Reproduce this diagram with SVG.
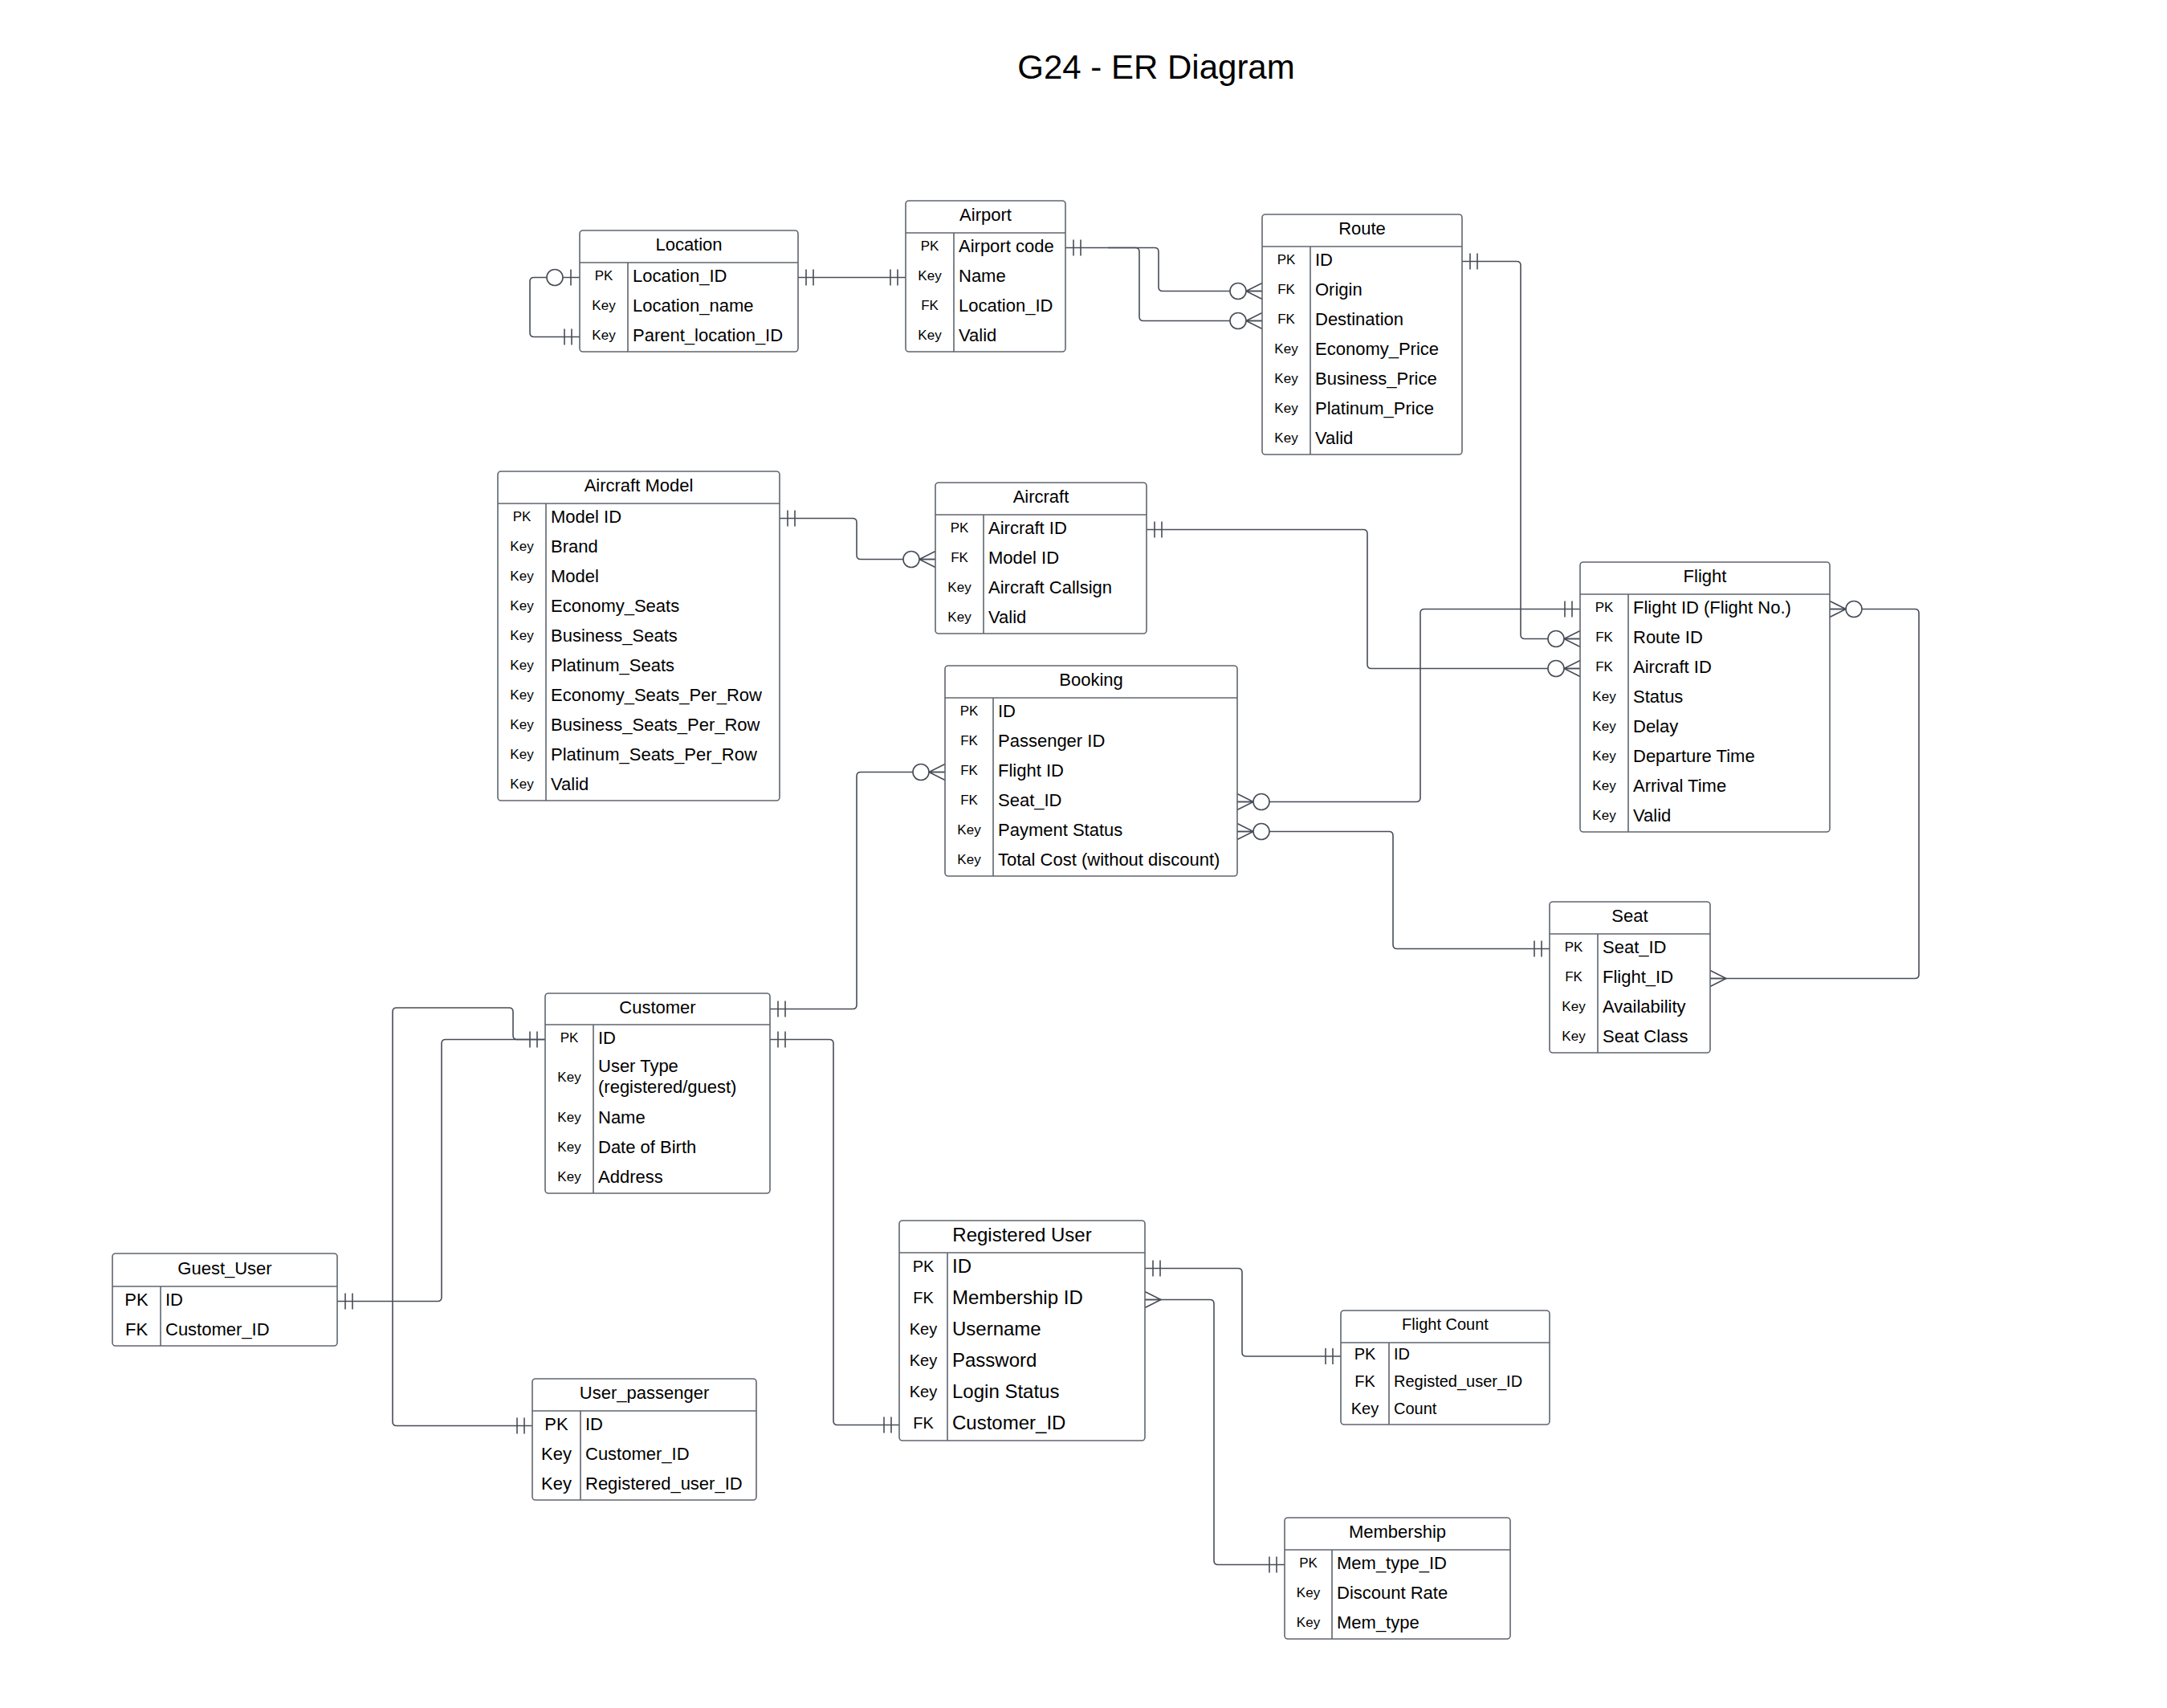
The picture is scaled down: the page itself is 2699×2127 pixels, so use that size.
<svg xmlns="http://www.w3.org/2000/svg" width="2699" height="2127" viewBox="0 0 2699 2127">
<style>
text{font-family:"Liberation Sans",Arial,sans-serif;fill:#000}
.box{fill:#fff;stroke:#60666f;stroke-width:1.6}
.sep{stroke:#60666f;stroke-width:1.6}
.hd{font-size:22px;text-anchor:middle}
.k{font-size:17px;text-anchor:middle}
.f{font-size:22px}
.k22{font-size:22px;text-anchor:middle}
.hd24{font-size:24px;text-anchor:middle}
.f24{font-size:24px}
.k20{font-size:20px;text-anchor:middle}
.f20{font-size:20px}
.hd20{font-size:20px;text-anchor:middle}
.ln{fill:none;stroke:#474d57;stroke-width:1.6}
.mk{fill:none;stroke:#474d57;stroke-width:1.6}
.mc{fill:#fff;stroke:#474d57;stroke-width:1.6}
</style>
<defs>
<marker id="one" markerUnits="userSpaceOnUse" viewBox="-45 -15 50 30" refX="0" refY="0" markerWidth="50" markerHeight="30" orient="auto-start-reverse" overflow="visible">
<path class="mk" d="M-10,-10V10M-19,-10V10"/>
</marker>
<marker id="zmany" markerUnits="userSpaceOnUse" viewBox="-45 -15 50 30" refX="0" refY="0" markerWidth="50" markerHeight="30" orient="auto-start-reverse" overflow="visible">
<path class="mk" d="M0,-10L-20,0L0,10M-20,0H0"/>
<circle class="mc" cx="-30" cy="0" r="10"/>
</marker>
<marker id="many" markerUnits="userSpaceOnUse" viewBox="-45 -15 50 30" refX="0" refY="0" markerWidth="50" markerHeight="30" orient="auto-start-reverse" overflow="visible">
<path class="mk" d="M0,-10L-20,0L0,10M-20,0H0"/>
</marker>
<marker id="zone" markerUnits="userSpaceOnUse" viewBox="-45 -15 50 30" refX="0" refY="0" markerWidth="50" markerHeight="30" orient="auto-start-reverse" overflow="visible">
<path class="mk" d="M-11,-10V10"/>
<circle class="mc" cx="-31" cy="0" r="10"/>
</marker>
</defs>
<rect width="2699" height="2127" fill="#fff"/>
<text x="1440" y="98" style="font-size:42px;text-anchor:middle">G24 - ER Diagram</text>

<g id="connectors">
<path class="ln" d="M722,345.5H665Q660,345.5 660,350.5V414.5Q660,419.5 665,419.5H722" marker-start="url(#zone)" marker-end="url(#one)"/>
<path class="ln" d="M994,345.5H1128" marker-start="url(#one)" marker-end="url(#one)"/>
<path class="ln" d="M1327,308.5H1438Q1443,308.5 1443,313.5V357.5Q1443,362.5 1448,362.5H1572" marker-start="url(#one)" marker-end="url(#zmany)"/>
<path class="ln" d="M1380,308.5H1414Q1419,308.5 1419,313.5V394.5Q1419,399.5 1424,399.5H1572" marker-end="url(#zmany)"/>
<path class="ln" d="M1821,325.5H1889Q1894,325.5 1894,330.5V790.5Q1894,795.5 1899,795.5H1968" marker-start="url(#one)" marker-end="url(#zmany)"/>
<path class="ln" d="M971,645.5H1062Q1067,645.5 1067,650.5V691.5Q1067,696.5 1072,696.5H1165" marker-start="url(#one)" marker-end="url(#zmany)"/>
<path class="ln" d="M1428,659.5H1698Q1703,659.5 1703,664.5V827.5Q1703,832.5 1708,832.5H1968" marker-start="url(#one)" marker-end="url(#zmany)"/>
<path class="ln" d="M1541,998.5H1764Q1769,998.5 1769,993.5V763.5Q1769,758.5 1774,758.5H1968" marker-start="url(#zmany)" marker-end="url(#one)"/>
<path class="ln" d="M1541,1035.5H1730Q1735,1035.5 1735,1040.5V1176.5Q1735,1181.5 1740,1181.5H1930" marker-start="url(#zmany)" marker-end="url(#one)"/>
<path class="ln" d="M2279,758.5H2385Q2390,758.5 2390,763.5V1213.5Q2390,1218.5 2385,1218.5H2130" marker-start="url(#zmany)" marker-end="url(#many)"/>
<path class="ln" d="M959,1256.5H1062Q1067,1256.5 1067,1251.5V966.5Q1067,961.5 1072,961.5H1177" marker-start="url(#one)" marker-end="url(#zmany)"/>
<path class="ln" d="M959,1294.5H1033Q1038,1294.5 1038,1299.5V1769.5Q1038,1774.5 1043,1774.5H1120" marker-start="url(#one)" marker-end="url(#one)"/>
<path class="ln" d="M679,1294.5H644Q639,1294.5 639,1289.5V1260Q639,1255 634,1255H494Q489,1255 489,1260V1770.5Q489,1775.5 494,1775.5H663" marker-start="url(#one)" marker-end="url(#one)"/>
<path class="ln" d="M420,1620.5H545Q550,1620.5 550,1615.5V1299.5Q550,1294.5 555,1294.5H679" marker-start="url(#one)"/>
<path class="ln" d="M1426,1579.5H1542Q1547,1579.5 1547,1584.5V1684Q1547,1689 1552,1689H1670" marker-start="url(#one)" marker-end="url(#one)"/>
<path class="ln" d="M1426,1618.5H1507Q1512,1618.5 1512,1623.5V1943.5Q1512,1948.5 1517,1948.5H1600" marker-start="url(#many)" marker-end="url(#one)"/>
</g>

<g id="location">
<rect class="box" x="722" y="287" width="272" height="151" rx="4"/>
<path class="sep" d="M722,327H994M782,327V438"/>
<text class="hd" x="858" y="312">Location</text>
<text class="k" x="752" y="348.5">PK</text><text class="f" x="788" y="350.5">Location_ID</text>
<text class="k" x="752" y="385.5">Key</text><text class="f" x="788" y="387.5">Location_name</text>
<text class="k" x="752" y="422.5">Key</text><text class="f" x="788" y="424.5">Parent_location_ID</text>
</g>

<g id="airport">
<rect class="box" x="1128" y="250" width="199" height="188" rx="4"/>
<path class="sep" d="M1128,290H1327M1188,290V438"/>
<text class="hd" x="1227.5" y="275">Airport</text>
<text class="k" x="1158" y="311.5">PK</text><text class="f" x="1194" y="313.5">Airport code</text>
<text class="k" x="1158" y="348.5">Key</text><text class="f" x="1194" y="350.5">Name</text>
<text class="k" x="1158" y="385.5">FK</text><text class="f" x="1194" y="387.5">Location_ID</text>
<text class="k" x="1158" y="422.5">Key</text><text class="f" x="1194" y="424.5">Valid</text>
</g>

<g id="route">
<rect class="box" x="1572" y="267" width="249" height="299" rx="4"/>
<path class="sep" d="M1572,307H1821M1632,307V566"/>
<text class="hd" x="1696.5" y="292">Route</text>
<text class="k" x="1602" y="328.5">PK</text><text class="f" x="1638" y="330.5">ID</text>
<text class="k" x="1602" y="365.5">FK</text><text class="f" x="1638" y="367.5">Origin</text>
<text class="k" x="1602" y="402.5">FK</text><text class="f" x="1638" y="404.5">Destination</text>
<text class="k" x="1602" y="439.5">Key</text><text class="f" x="1638" y="441.5">Economy_Price</text>
<text class="k" x="1602" y="476.5">Key</text><text class="f" x="1638" y="478.5">Business_Price</text>
<text class="k" x="1602" y="513.5">Key</text><text class="f" x="1638" y="515.5">Platinum_Price</text>
<text class="k" x="1602" y="550.5">Key</text><text class="f" x="1638" y="552.5">Valid</text>
</g>

<g id="aircraft-model">
<rect class="box" x="620" y="587" width="351" height="410" rx="4"/>
<path class="sep" d="M620,627H971M680,627V997"/>
<text class="hd" x="795.5" y="612">Aircraft Model</text>
<text class="k" x="650" y="648.5">PK</text><text class="f" x="686" y="650.5">Model ID</text>
<text class="k" x="650" y="685.5">Key</text><text class="f" x="686" y="687.5">Brand</text>
<text class="k" x="650" y="722.5">Key</text><text class="f" x="686" y="724.5">Model</text>
<text class="k" x="650" y="759.5">Key</text><text class="f" x="686" y="761.5">Economy_Seats</text>
<text class="k" x="650" y="796.5">Key</text><text class="f" x="686" y="798.5">Business_Seats</text>
<text class="k" x="650" y="833.5">Key</text><text class="f" x="686" y="835.5">Platinum_Seats</text>
<text class="k" x="650" y="870.5">Key</text><text class="f" x="686" y="872.5">Economy_Seats_Per_Row</text>
<text class="k" x="650" y="907.5">Key</text><text class="f" x="686" y="909.5">Business_Seats_Per_Row</text>
<text class="k" x="650" y="944.5">Key</text><text class="f" x="686" y="946.5">Platinum_Seats_Per_Row</text>
<text class="k" x="650" y="981.5">Key</text><text class="f" x="686" y="983.5">Valid</text>
</g>

<g id="aircraft">
<rect class="box" x="1165" y="601" width="263" height="188" rx="4"/>
<path class="sep" d="M1165,641H1428M1225,641V789"/>
<text class="hd" x="1296.5" y="626">Aircraft</text>
<text class="k" x="1195" y="662.5">PK</text><text class="f" x="1231" y="664.5">Aircraft ID</text>
<text class="k" x="1195" y="699.5">FK</text><text class="f" x="1231" y="701.5">Model ID</text>
<text class="k" x="1195" y="736.5">Key</text><text class="f" x="1231" y="738.5">Aircraft Callsign</text>
<text class="k" x="1195" y="773.5">Key</text><text class="f" x="1231" y="775.5">Valid</text>
</g>

<g id="booking">
<rect class="box" x="1177" y="829" width="364" height="262" rx="4"/>
<path class="sep" d="M1177,869H1541M1237,869V1091"/>
<text class="hd" x="1359" y="854">Booking</text>
<text class="k" x="1207" y="890.5">PK</text><text class="f" x="1243" y="892.5">ID</text>
<text class="k" x="1207" y="927.5">FK</text><text class="f" x="1243" y="929.5">Passenger ID</text>
<text class="k" x="1207" y="964.5">FK</text><text class="f" x="1243" y="966.5">Flight ID</text>
<text class="k" x="1207" y="1001.5">FK</text><text class="f" x="1243" y="1003.5">Seat_ID</text>
<text class="k" x="1207" y="1038.5">Key</text><text class="f" x="1243" y="1040.5">Payment Status</text>
<text class="k" x="1207" y="1075.5">Key</text><text class="f" x="1243" y="1077.5">Total Cost (without discount)</text>
</g>

<g id="flight">
<rect class="box" x="1968" y="700" width="311" height="336" rx="4"/>
<path class="sep" d="M1968,740H2279M2028,740V1036"/>
<text class="hd" x="2123.5" y="725">Flight</text>
<text class="k" x="1998" y="761.5">PK</text><text class="f" x="2034" y="763.5">Flight ID (Flight No.)</text>
<text class="k" x="1998" y="798.5">FK</text><text class="f" x="2034" y="800.5">Route ID</text>
<text class="k" x="1998" y="835.5">FK</text><text class="f" x="2034" y="837.5">Aircraft ID</text>
<text class="k" x="1998" y="872.5">Key</text><text class="f" x="2034" y="874.5">Status</text>
<text class="k" x="1998" y="909.5">Key</text><text class="f" x="2034" y="911.5">Delay</text>
<text class="k" x="1998" y="946.5">Key</text><text class="f" x="2034" y="948.5">Departure Time</text>
<text class="k" x="1998" y="983.5">Key</text><text class="f" x="2034" y="985.5">Arrival Time</text>
<text class="k" x="1998" y="1020.5">Key</text><text class="f" x="2034" y="1022.5">Valid</text>
</g>

<g id="seat">
<rect class="box" x="1930" y="1123" width="200" height="188" rx="4"/>
<path class="sep" d="M1930,1163H2130M1990,1163V1311"/>
<text class="hd" x="2030" y="1148">Seat</text>
<text class="k" x="1960" y="1184.5">PK</text><text class="f" x="1996" y="1186.5">Seat_ID</text>
<text class="k" x="1960" y="1221.5">FK</text><text class="f" x="1996" y="1223.5">Flight_ID</text>
<text class="k" x="1960" y="1258.5">Key</text><text class="f" x="1996" y="1260.5">Availability</text>
<text class="k" x="1960" y="1295.5">Key</text><text class="f" x="1996" y="1297.5">Seat Class</text>
</g>

<g id="customer">
<rect class="box" x="679" y="1237" width="280" height="249" rx="4"/>
<path class="sep" d="M679,1276H959M739,1276V1486"/>
<text class="hd" x="819" y="1261.5">Customer</text>
<text class="k" x="709" y="1297.5">PK</text><text class="f" x="745" y="1299.5">ID</text>
<text class="k" x="709" y="1347">Key</text><text class="f" x="745" y="1334.5">User Type</text><text class="f" x="745" y="1360.5">(registered/guest)</text>
<text class="k" x="709" y="1396.5">Key</text><text class="f" x="745" y="1398.5">Name</text>
<text class="k" x="709" y="1433.5">Key</text><text class="f" x="745" y="1435.5">Date of Birth</text>
<text class="k" x="709" y="1470.5">Key</text><text class="f" x="745" y="1472.5">Address</text>
</g>

<g id="guest-user">
<rect class="box" x="140" y="1561" width="280" height="115" rx="4"/>
<path class="sep" d="M140,1602H420M200,1602V1676"/>
<text class="hd" x="280" y="1586.5">Guest_User</text>
<text class="k22" x="170" y="1625.5">PK</text><text class="f" x="206" y="1625.5">ID</text>
<text class="k22" x="170" y="1662.5">FK</text><text class="f" x="206" y="1662.5">Customer_ID</text>
</g>

<g id="user-passenger">
<rect class="box" x="663" y="1717" width="279" height="151" rx="4"/>
<path class="sep" d="M663,1757H942M723,1757V1868"/>
<text class="hd" x="802.5" y="1742">User_passenger</text>
<text class="k22" x="693" y="1780.5">PK</text><text class="f" x="729" y="1780.5">ID</text>
<text class="k22" x="693" y="1817.5">Key</text><text class="f" x="729" y="1817.5">Customer_ID</text>
<text class="k22" x="693" y="1854.5">Key</text><text class="f" x="729" y="1854.5">Registered_user_ID</text>
</g>

<g id="registered-user">
<rect class="box" x="1120" y="1520" width="306" height="274" rx="4"/>
<path class="sep" d="M1120,1560H1426M1180,1560V1794"/>
<text class="hd24" x="1273" y="1545.5">Registered User</text>
<text class="k20" x="1150" y="1583.7">PK</text><text class="f24" x="1186" y="1585">ID</text>
<text class="k20" x="1150" y="1622.7">FK</text><text class="f24" x="1186" y="1624">Membership ID</text>
<text class="k20" x="1150" y="1661.7">Key</text><text class="f24" x="1186" y="1663">Username</text>
<text class="k20" x="1150" y="1700.7">Key</text><text class="f24" x="1186" y="1702">Password</text>
<text class="k20" x="1150" y="1739.7">Key</text><text class="f24" x="1186" y="1741">Login Status</text>
<text class="k20" x="1150" y="1778.7">FK</text><text class="f24" x="1186" y="1780">Customer_ID</text>
</g>

<g id="flight-count">
<rect class="box" x="1670" y="1632" width="260" height="142" rx="4"/>
<path class="sep" d="M1670,1672H1930M1730,1672V1774"/>
<text class="hd20" x="1800" y="1656">Flight Count</text>
<text class="k20" x="1700" y="1693.2">PK</text><text class="f20" x="1736" y="1693.2">ID</text>
<text class="k20" x="1700" y="1727.2">FK</text><text class="f20" x="1736" y="1727.2">Registed_user_ID</text>
<text class="k20" x="1700" y="1761.2">Key</text><text class="f20" x="1736" y="1761.2">Count</text>
</g>

<g id="membership">
<rect class="box" x="1600" y="1890" width="281" height="151" rx="4"/>
<path class="sep" d="M1600,1930H1881M1659,1930V2041"/>
<text class="hd" x="1740.5" y="1915">Membership</text>
<text class="k" x="1629.5" y="1951.5">PK</text><text class="f" x="1665" y="1953.5">Mem_type_ID</text>
<text class="k" x="1629.5" y="1988.5">Key</text><text class="f" x="1665" y="1990.5">Discount Rate</text>
<text class="k" x="1629.5" y="2025.5">Key</text><text class="f" x="1665" y="2027.5">Mem_type</text>
</g>
</svg>
